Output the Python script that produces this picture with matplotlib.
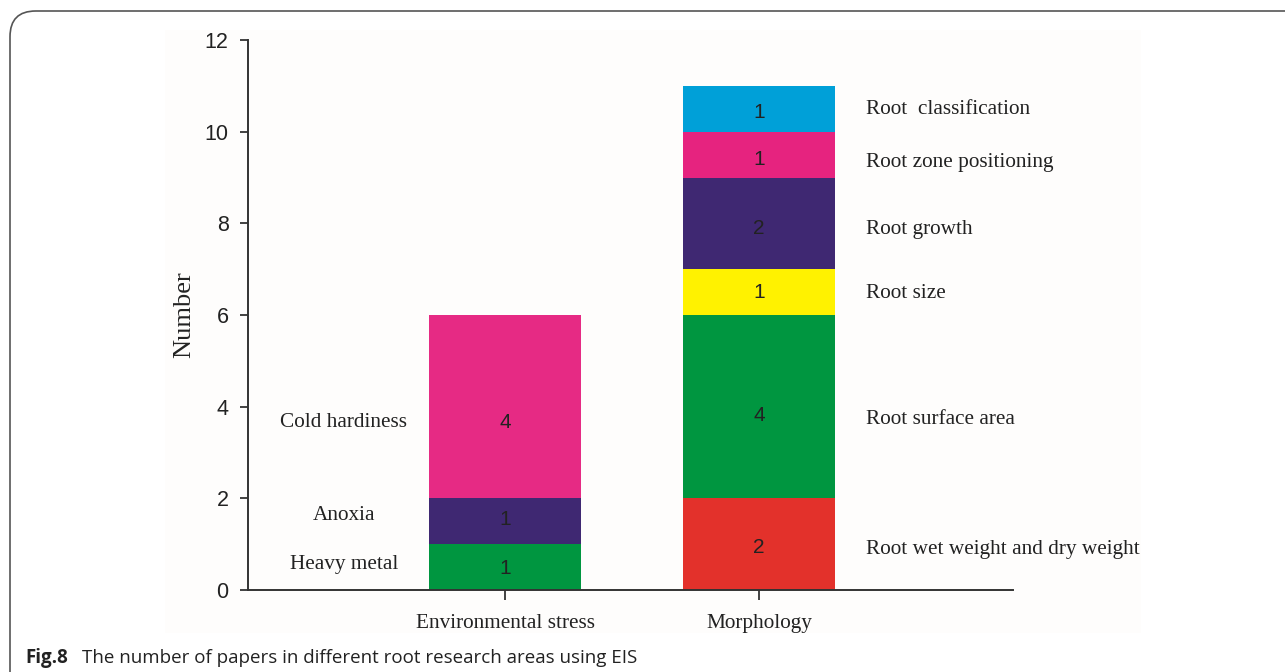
import matplotlib
matplotlib.use("Agg")
import matplotlib.pyplot as plt
from matplotlib.patches import FancyBboxPatch, Rectangle
import numpy as np

categories = ["Environmental stress", "Morphology"]

env_labels = ["Heavy metal", "Anoxia", "Cold hardiness"]
env_values = [1, 1, 4]
env_colors = ["#009640", "#3f2872", "#e62a84"]

morph_labels = ["Root wet weight and dry weight", "Root surface area", "Root size",
                "Root growth", "Root zone positioning", "Root  classification"]
morph_values = [2, 4, 1, 2, 1, 1]
morph_colors = ["#e3312b", "#009640", "#fff200", "#3f2872", "#e6237f", "#00a0d8"]

# label anchor heights (data units)
env_label_y = [0.55, 1.62, 3.65]
morph_label_y = [0.88, 3.71, 6.46, 7.86, 9.32, 10.48]
# value-label heights
env_num_y = [0.48, 1.53, 3.65]
morph_num_y = [0.92, 3.8, 6.48, 7.88, 9.4, 10.42]

yticks = [0, 2, 4, 6, 8, 10, 12]

W, H = 1285, 672
fig = plt.figure(figsize=(W / 100, H / 100), dpi=100)
fig.patch.set_facecolor("white")

# faint panel background
fig.patches.append(Rectangle((165 / W, 1 - 633 / H), (1141 - 165) / W, (633 - 30) / H,
                             transform=fig.transFigure, facecolor="#fefdfc",
                             edgecolor="none", zorder=-5))
# rounded frame
fig.patches.append(FancyBboxPatch((10 / W, -0.2), 1.2, 1 - 11 / H + 0.2,
                                  boxstyle="round,pad=0,rounding_size=0.02",
                                  transform=fig.transFigure, facecolor="none",
                                  edgecolor="#555555", linewidth=1.2, zorder=-4,
                                  mutation_aspect=W / H))

ax = fig.add_axes([248 / W, 1 - 590 / H, (1013 - 248) / W, (590 - 40) / H])
ax.set_facecolor("none")
ax.set_zorder(2)

x = np.arange(len(categories))
bw = 0.6
serif = "Liberation Serif"
sans = "Liberation Sans"

def draw_stack(xpos, values, colors, num_y):
    bottom = 0
    for v, c, ny in zip(values, colors, num_y):
        ax.bar(xpos, v, bw, bottom=bottom, color=c, edgecolor="none", zorder=2)
        ax.text(xpos, ny, str(v), ha="center", va="center",
                fontsize=15, family=sans, color="#222222", zorder=3)
        bottom += v

draw_stack(x[0], env_values, env_colors, env_num_y)
draw_stack(x[1], morph_values, morph_colors, morph_num_y)

for lab, yy in zip(env_labels, env_label_y):
    ax.text(-0.635, yy, lab, ha="center", va="center", fontsize=15.3,
            family=serif, color="#222222")
for lab, yy in zip(morph_labels, morph_label_y):
    ax.text(1.42, yy, lab, ha="left", va="center", fontsize=15.3,
            family=serif, color="#222222", clip_on=False)

ax.set_xlim(-1.012, 2.0)
ax.set_ylim(0, 12)
ax.set_yticks(yticks)
ax.set_xticks(x)
ax.set_xticklabels(categories, family=serif, fontsize=15.3, color="#222222")
for t in ax.get_yticklabels():
    t.set_family(sans)
    t.set_fontsize(15.5)
    t.set_color("#222222")
ax.tick_params(axis="y", direction="out", length=6, width=1.3, color="#333333", pad=8)
ax.tick_params(axis="x", direction="out", length=7, width=1.3, color="#333333", pad=10)
for s in ["top", "right"]:
    ax.spines[s].set_visible(False)
for s in ["left", "bottom"]:
    ax.spines[s].set_color("#333333")
    ax.spines[s].set_linewidth(1.4)

ax.set_ylabel("Number", family=serif, fontsize=19, color="#222222", labelpad=7)

fig.text(25 / W, 1 - 658 / H, "Fig.8", fontsize=13.5, va="center", ha="left",
         family="Open Sans", weight="bold", color="#222222")
fig.text(82 / W, 1 - 658 / H, "The number of papers in different root research areas using EIS",
         fontsize=13.5, va="center", ha="left", family="Open Sans", color="#222222")

fig.savefig("out.png", dpi=100)
